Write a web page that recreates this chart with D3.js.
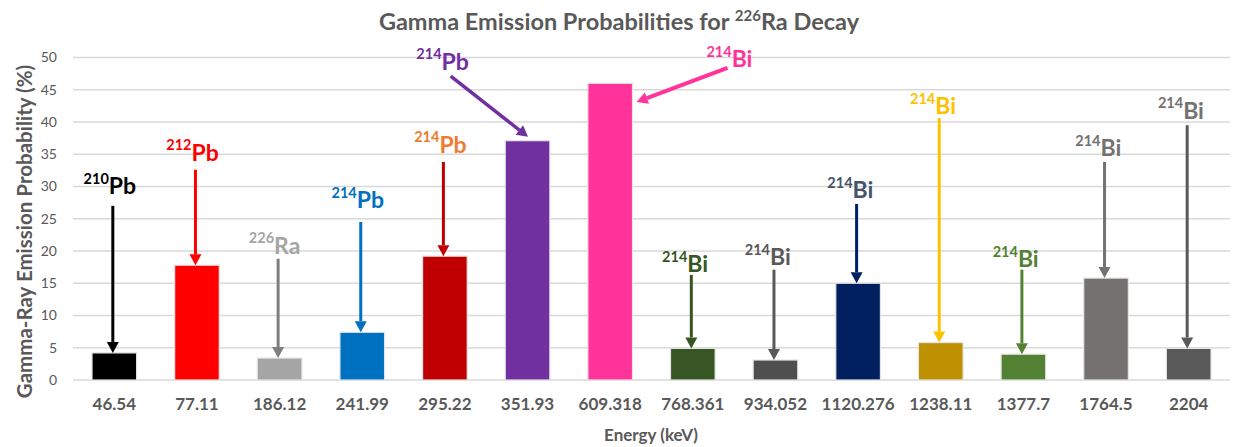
<!DOCTYPE html>
<html><head><meta charset="utf-8">
<script src="https://cdn.jsdelivr.net/npm/d3@7"></script>
<style>
body{margin:0;background:#fff}
svg{display:block}
text{font-family:Lato,"Open Sans",sans-serif}
</style>
</head><body>
<svg id="chart" width="1233" height="447"></svg>
<script>
// ---- data ----
const energies = ["46.54","77.11","186.12","241.99","295.22","351.93","609.318","768.361","934.052","1120.276","1238.11","1377.7","1764.5","2204"];
const probabilities = [4.2, 17.8, 3.4, 7.4, 19.2, 37.1, 46.0, 4.9, 3.1, 15.0, 5.8, 4.0, 15.8, 4.9];
const barColors = ["#000000","#FF0000","#A5A5A5","#0070C0","#C00000","#7030A0","#FF3399","#375623","#4F4F4F","#002060","#BF9000","#548235","#767171","#595959"];
const yTicks = [0,5,10,15,20,25,30,35,40,45,50];
const isotopeMass = ["210","212","226","214","214","214","214","214","214","214","214","214","214","214"];
const isotopeSymbol = ["Pb","Pb","Ra","Pb","Pb","Pb","Bi","Bi","Bi","Bi","Bi","Bi","Bi","Bi"];
const labelColors = ["#000000","#FF0000","#A5A5A5","#0070C0","#ED7D31","#7030A0","#FF3399","#375623","#595959","#44546A","#FFC000","#548235","#767171","#767171"];
const arrowColors = ["#000000","#FF0000","#7F7F7F","#0070C0","#C00000","#7030A0","#FF3399","#375623","#595959","#002060","#FFC000","#548235","#767171","#595959"];
// annotation label baseline (in % units) and arrow start (in % units)
const labelLevels = [28.8, 34.0, 19.6, 26.6, 35.2, 48.1, 48.5, 16.7, 17.8, 28.2, 41.2, 17.5, 34.7, 40.5];
const arrowStartLevels = [27.0, 32.6, 18.8, 24.5, 33.8, 47.1, 48.4, 16.3, 17.1, 27.3, 40.6, 17.1, 33.8, 39.5];

// ---- layout ----
const svg = d3.select("#chart");
const plot = {left:73, right:1230, top:57.5, bottom:380};

const x = d3.scaleBand().domain(energies).range([plot.left, plot.right]).paddingInner(0.46).paddingOuter(0.23);
const y = d3.scaleLinear().domain([0,50]).range([plot.bottom, plot.top]);
const cx = i => x(energies[i]) + x.bandwidth()/2;
const idx = d3.scaleLinear().domain([0, energies.length-1]).range([cx(0), cx(energies.length-1)]);

// gridlines
svg.append("g").selectAll("line").data(yTicks).join("line")
  .attr("x1", plot.left).attr("x2", plot.right)
  .attr("y1", d => y(d)).attr("y2", d => y(d))
  .attr("stroke", "#D9D9D9").attr("stroke-width", 1.3);

// y axis
const yAxis = svg.append("g").attr("transform", `translate(${plot.left-16},0)`)
  .call(d3.axisLeft(y).tickValues(yTicks).tickSize(0).tickPadding(0));
yAxis.select(".domain").remove();
yAxis.selectAll("text").attr("fill", "#595959").style("font-size", "14px").style("font-family", "Lato");

// x axis
const xAxis = svg.append("g").attr("transform", `translate(0,${plot.bottom})`)
  .call(d3.axisBottom(x).tickSize(0).tickPadding(18));
xAxis.select(".domain").remove();
xAxis.selectAll("text").attr("fill", "#595959").style("font-size", "17px").style("font-weight", "bold").style("font-family", "Lato");

// bars
svg.append("g").selectAll("rect").data(probabilities).join("rect")
  .attr("x", (d,i) => x(energies[i]))
  .attr("width", x.bandwidth())
  .attr("y", d => y(d))
  .attr("height", d => y(0) - y(d))
  .attr("fill", (d,i) => barColors[i])
  .attr("stroke", "#E4E4E4").attr("stroke-width", 1.2);

// arrows
function arrow(g, x1, y1, x2, y2, color, w) {
  const a = Math.atan2(y2 - y1, x2 - x1);
  const L = 11, hw = 6;
  const bx = x2 - L*Math.cos(a), by = y2 - L*Math.sin(a);
  g.append("line").attr("x1", x1).attr("y1", y1).attr("x2", bx).attr("y2", by)
    .attr("stroke", color).attr("stroke-width", w);
  const px = -Math.sin(a), py = Math.cos(a);
  g.append("path")
    .attr("d", `M${x2},${y2}L${bx+px*hw},${by+py*hw}L${bx-px*hw},${by-py*hw}Z`)
    .attr("fill", color);
}
const ann = svg.append("g");
function label(xStart, baseVal, i) {
  ann.append("text").attr("x", xStart).attr("y", y(baseVal) - 10.5)
    .attr("text-anchor", "end").attr("fill", labelColors[i])
    .style("font-weight", "bold").style("font-size", "14.5px").text(isotopeMass[i]);
  ann.append("text").attr("x", xStart).attr("y", y(baseVal)).attr("fill", labelColors[i])
    .style("font-weight", "bold").style("font-size", "23px").text(isotopeSymbol[i]);
}

probabilities.forEach((v, i) => {
  if (i === 5) {
    arrow(ann, idx(4.07), y(arrowStartLevels[i]), idx(5.006), y(37.7), arrowColors[i], 3.5);
    label(idx(3.96), labelLevels[i], i);
    return;
  }
  if (i === 6) {
    arrow(ann, idx(7.42), y(arrowStartLevels[i]), idx(6.32), y(43.1), arrowColors[i], 4);
    label(idx(7.47), labelLevels[i], i);
    return;
  }
  const ax = cx(i) - 1.5;
  arrow(ann, ax, y(arrowStartLevels[i]), ax, y(v), arrowColors[i], 3);
  label(ax - 4, labelLevels[i], i);
});

// title
const title = svg.append("text").attr("x", 619).attr("y", 30).attr("text-anchor", "middle")
  .attr("fill", "#595959").style("font-size", "23.5px").style("font-weight", "bold");
title.append("tspan").text("Gamma Emission Probabilities for ");
title.append("tspan").attr("dy", -9).style("font-size", "15px").text("226");
title.append("tspan").attr("dy", 9).text("Ra Decay");

// axis titles
svg.append("text").attr("transform", `translate(32,${(63+400)/2}) rotate(-90)`)
  .attr("text-anchor", "middle").attr("fill", "#595959")
  .style("font-size", "20.5px").style("font-weight", "bold")
  .text("Gamma-Ray Emission Probability (%)");
svg.append("text").attr("x", 651).attr("y", 441).attr("text-anchor", "middle")
  .attr("fill", "#595959").style("font-size", "17px").style("font-weight", "bold")
  .text("Energy (keV)");
</script>
</body></html>
